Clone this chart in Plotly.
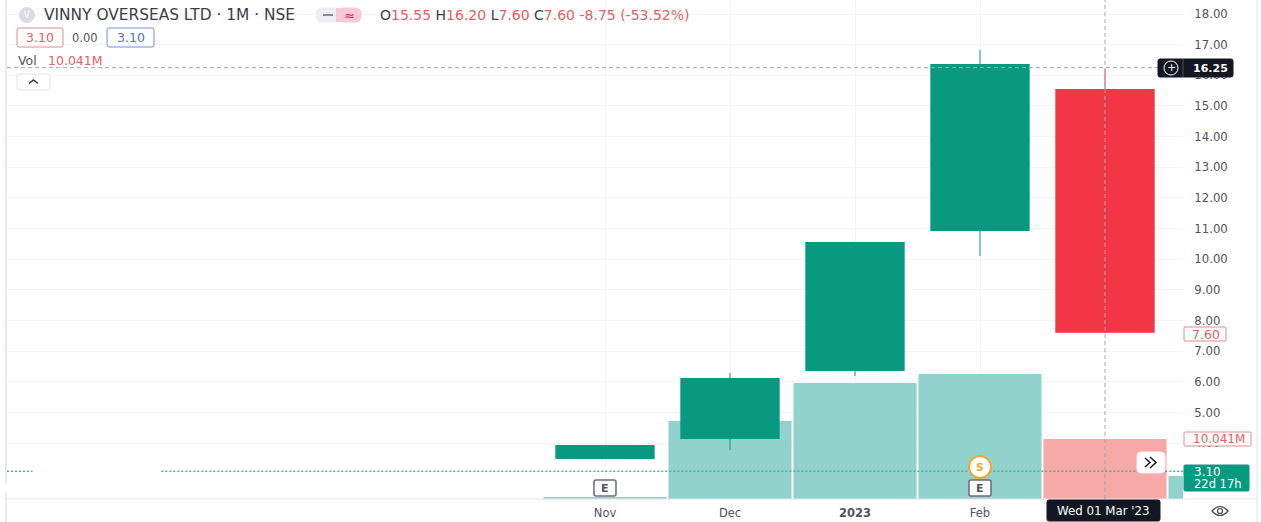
import plotly.graph_objects as go

W, H = 1261, 522
FONT = "DejaVu Sans"

# ---- data ----
months = ["Nov", "Dec", "Jan", "Feb", "Mar"]
positions = [0, 1, 2, 3, 4]
opens = [3.48, 4.13, 6.35, 10.92, 15.55]
highs = [3.94, 6.29, 10.56, 16.83, 16.20]
lows = [3.48, 3.77, 6.19, 10.10, 7.60]
closes = [3.94, 6.12, 10.56, 16.37, 7.60]
vol_positions = [0, 1, 2, 3, 4, 5]
volumes_m = [0.33, 13.05, 19.4, 20.9, 10.041, 3.85]
price_ticks = [18, 17, 16, 15, 14, 13, 12, 11, 10, 9, 8, 7, 6, 5, 4]
x_tick_positions = [0, 1, 2, 3]
x_tick_labels = ["Nov", "Dec", "<b>2023</b>", "Feb"]
last_price = 3.08
cross_price = 16.25
cross_pos = 4

UP, DOWN = "#089981", "#f23645"
UP_V, DOWN_V = "#92d2cc", "#f7a9a7"
TEXT = "#50535e"
RED_T = "#e4605e"
DARK = "#131722"
LINE = "#e0e3eb"

def px(x):
    return x / W
def py(y):
    return 1 - y / H

fig = go.Figure()

# volume (primary, hidden axis, so it sits behind the candles)
fig.add_trace(go.Bar(
    x=vol_positions, y=volumes_m, width=0.985,
    marker=dict(color=[UP_V if i == 5 or (i < 4) else DOWN_V for i in vol_positions], line_width=0),
    xaxis="x", yaxis="y", showlegend=False, hoverinfo="skip"))

# last price dotted line
fig.add_trace(go.Scatter(
    x=[-4.784, -4.58, None, -3.55, 4.624], y=[last_price] * 2 + [None] + [last_price] * 2,
    mode="lines", line=dict(color="#3fb5a2", width=1.5, dash="2px,2px"),
    xaxis="x", yaxis="y2", showlegend=False, hoverinfo="skip"))

# wicks
for i in range(len(positions)):
    c = UP if closes[i] >= opens[i] else DOWN
    fig.add_trace(go.Scatter(
        x=[positions[i], positions[i]], y=[lows[i], highs[i]], mode="lines",
        line=dict(color=c, width=1), xaxis="x", yaxis="y2", showlegend=False, hoverinfo="skip"))

# bodies
fig.add_trace(go.Bar(
    x=positions,
    y=[abs(c - o) for o, c in zip(opens, closes)],
    base=[min(o, c) for o, c in zip(opens, closes)],
    width=0.795,
    marker=dict(color=[UP if c >= o else DOWN for o, c in zip(opens, closes)], line_width=0),
    xaxis="x", yaxis="y2", showlegend=False, hoverinfo="skip"))

shapes = []
anns = []

def box(x0, y0, x1, y1, fill="white", line=None, r=2, w=1):
    path = (f"M{px(x0+r)},{py(y0)} L{px(x1-r)},{py(y0)} Q{px(x1)},{py(y0)} {px(x1)},{py(y0+r)} "
            f"L{px(x1)},{py(y1-r)} Q{px(x1)},{py(y1)} {px(x1-r)},{py(y1)} L{px(x0+r)},{py(y1)} "
            f"Q{px(x0)},{py(y1)} {px(x0)},{py(y1-r)} L{px(x0)},{py(y0+r)} Q{px(x0)},{py(y0)} {px(x0+r)},{py(y0)} Z")
    shapes.append(dict(type="path", xref="paper", yref="paper", path=path, fillcolor=fill,
                       line=dict(color=line or fill, width=w), layer="above"))

def text(x, y, s, size=11.5, color=TEXT, anchor="left", family=FONT):
    anns.append(dict(x=px(x), y=py(y), xref="paper", yref="paper", text=s, showarrow=False,
                     xanchor=anchor, yanchor="middle", xshift=0, borderpad=0,
                     font=dict(size=size, color=color, family=family)))

def circle(cx, cy, r, fill, line=None, w=1):
    shapes.append(dict(type="circle", xref="paper", yref="paper", x0=px(cx-r), x1=px(cx+r),
                       y0=py(cy+r), y1=py(cy-r), fillcolor=fill,
                       line=dict(color=line or fill, width=w), layer="above"))

def polyline(points, color, w=1.5):
    p = " L".join(f"{px(x)},{py(y)}" for x, y in points)
    shapes.append(dict(type="path", xref="paper", yref="paper", path="M" + p,
                       line=dict(color=color, width=w), layer="above"))

# frame lines
for (x0, y0, x1, y1) in [(6, 0, 6, 484), (6, 492, 6, 522), (7, 499, 1257, 499), (1257, 0, 1257, 522)]:
    shapes.append(dict(type="line", xref="paper", yref="paper", x0=px(x0), x1=px(x1), y0=py(y0), y1=py(y1),
                       line=dict(color=LINE, width=1.5 if x0 == 6 else 1), layer="above"))

# crosshair
DASH = "4px,3px"
shapes.append(dict(type="line", xref="x", yref="paper", x0=cross_pos, x1=cross_pos, y0=py(499), y1=1,
                   line=dict(color="#a3a6af", width=1, dash=DASH), layer="above"))
shapes.append(dict(type="line", xref="paper", yref="y2", x0=px(7), x1=px(1158), y0=cross_price, y1=cross_price,
                   line=dict(color="#a3a6af", width=1, dash=DASH), layer="above"))

# header
circle(27, 15, 7.5, "#d9dce6")
text(27, 15, "V", 8, "white", "center")
text(43, 15, "VINNY OVERSEAS LTD · 1M · NSE", 15.4, "#3a3d47")
box(316, 8, 339, 22, "#eceef2", r=6)
box(338, 8, 361, 22, "#f7c8d6", r=6)
shapes.append(dict(type="rect", xref="paper", yref="paper", x0=px(336), x1=px(340), y0=py(22), y1=py(8),
                    fillcolor="#f7c8d6", line_width=0, layer="above"))
shapes.append(dict(type="line", xref="paper", yref="paper", x0=px(323), x1=px(333), y0=py(15), y1=py(15),
                   line=dict(color="#868993", width=2), layer="above"))
text(349, 15, "≈", 13, "#e91e63", "center")
rd = lambda s: f'<span style="color:{RED_T}">{s}</span>'
text(379, 15, f"O{rd('15.55')} H{rd('16.20')} L{rd('7.60')} C{rd('7.60')} {rd('-8.75 (-53.52%)')}", 14, "#3a3d47")
box(17, 28, 63, 47, "white", "#e08a8a")
text(40, 38, "3.10", 12.5, RED_T, "center")
text(85, 38, "0.00", 11.5, TEXT, "center")
box(107, 28, 154, 47, "white", "#6f8fe0")
text(130.5, 38, "3.10", 12.5, "#4a6fd8", "center")
text(17, 61, "Vol", 12.5, TEXT)
text(47, 61, "10.041M", 12.5, RED_T)
box(17, 74, 50, 90, "white", LINE)
polyline([(29, 83.5), (33.5, 80), (38, 83.5)], "#3a3d47", 1.5)

# right-side labels
box(1158, 59, 1233, 77, DARK, r=2)
circle(1171, 68, 7, DARK, "white", 1)
text(1171, 67.5, "+", 11, "white", "center")
shapes.append(dict(type="line", xref="paper", yref="paper", x0=px(1183), x1=px(1183), y0=py(59), y1=py(77),
                   line=dict(color="#50535e", width=1), layer="above"))
text(1210, 68, "<b>16.25</b>", 11, "white", "center")
box(1184, 327, 1226, 341, "white", "#e08a8a", r=1)
text(1205.5, 334, "7.60", 12.5, RED_T, "center")
box(1184, 432, 1251, 446, "white", "#e08a8a", r=1)
text(1219, 439, "10.041M", 12, RED_T, "center")
box(1184, 465, 1249, 491, UP, r=1)
text(1193, 472, "3.10", 12, "white")
text(1193, 484, "22d 17h", 11.5, "white")

# markers on chart
for cx in [605, 980]:
    box(cx - 11, 480, cx + 11, 496, "white", "#6a6d78", r=2, w=1.5)
    text(cx, 488, "<b>E</b>", 11, "#50535e", "center")
circle(980, 467, 11, "white", "#f0a830", 2)
text(980, 467, "<b>S</b>", 10.5, "#f0a830", "center")
box(1137, 452, 1165, 473, "white", "#f0f1f4", r=4)
polyline([(1145, 458), (1150, 462.5), (1145, 467)], DARK, 1.5)
polyline([(1150, 457), (1156, 462.5), (1150, 468)], DARK, 1.5)

# date label
box(1047, 500, 1160, 521, DARK, r=2)
text(1103.5, 510.5, "Wed 01 Mar '23", 11.8, "white", "center")

# eye icon
shapes.append(dict(type="path", xref="paper", yref="paper",
                   path=f"M{px(1212)},{py(511)} Q{px(1220)},{py(502)} {px(1228)},{py(511)} Q{px(1220)},{py(520)} {px(1212)},{py(511)} Z",
                   fillcolor="white", line=dict(color="#3a3d47", width=1.2), layer="above"))
circle(1220, 511, 2.5, "white", "#3a3d47", 1.2)

GRID = "#f3f4f7"
fig.update_layout(
    width=W, height=H, autosize=False,
    margin=dict(l=0, r=0, t=0, b=0),
    paper_bgcolor="white", plot_bgcolor="white",
    barmode="overlay", showlegend=False, hovermode=False,
    shapes=shapes, annotations=anns,
    font=dict(family=FONT, color=TEXT),
    xaxis=dict(domain=[px(7), px(1183)], range=[-4.784, 4.624], tickmode="array",
               tickvals=x_tick_positions, ticktext=x_tick_labels, showgrid=True, gridcolor=GRID,
               zeroline=False, showline=False, ticks="outside", ticklen=3, tickcolor="rgba(0,0,0,0)",
               tickfont=dict(size=11.5, color=TEXT, family=FONT), anchor="y"),
    yaxis=dict(domain=[1 - 499 / H, 1], range=[0, 499 / 60 * 10.041],
               visible=False, showgrid=False, zeroline=False),
    yaxis2=dict(domain=[1 - 499 / H, 1], range=[2.176, 18.457], overlaying="y", side="right", anchor="x",
                tickmode="array", tickvals=price_ticks, ticktext=[f"{t:.2f}" for t in price_ticks],
                showgrid=True, gridcolor=GRID, zeroline=False, showline=False, ticks="outside",
                ticklen=8, tickcolor="rgba(0,0,0,0)", tickfont=dict(size=11.7, color=TEXT, family=FONT)),
)

fig.write_html("out.html", post_script="document.body.style.margin='0';", config={"displayModeBar": False})
